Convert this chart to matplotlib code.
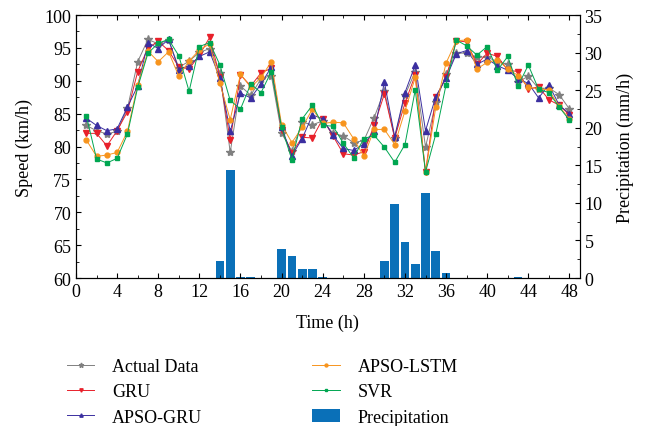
import matplotlib
matplotlib.use("Agg")
import matplotlib.pyplot as plt
from matplotlib.ticker import MultipleLocator

hours = list(range(1, 49))

actual = [83.2, 82.4, 81.9, 82.3, 85.8, 92.9, 96.3, 95.6, 96.2, 92.0, 93.0, 94.3,
          94.9, 91.2, 79.1, 89.2, 87.8, 90.3, 90.8, 82.0, 79.3, 83.7, 83.3, 83.9,
          82.0, 81.6, 80.6, 80.9, 84.4, 88.5, 81.3, 87.8, 91.4, 79.9, 86.7, 91.0,
          94.2, 94.2, 93.6, 93.6, 92.9, 92.5, 89.8, 90.7, 88.8, 88.9, 87.9, 85.7]
gru = [82.0, 82.0, 80.1, 82.4, 85.3, 91.4, 95.0, 96.0, 94.6, 92.1, 91.8, 93.9,
       96.6, 90.6, 81.0, 90.9, 89.2, 91.2, 91.9, 82.5, 79.0, 81.4, 81.3, 84.2,
       81.6, 78.9, 78.7, 79.2, 83.2, 88.0, 81.3, 86.6, 90.9, 76.1, 87.5, 90.5,
       96.1, 95.9, 92.5, 94.2, 93.7, 91.6, 91.4, 88.7, 89.1, 87.1, 86.3, 84.8]
apso_gru = [84.3, 83.2, 82.4, 82.7, 86.0, 89.2, 95.8, 94.9, 96.3, 91.7, 92.3, 93.7,
            94.4, 90.4, 82.3, 88.1, 87.4, 89.5, 92.1, 82.9, 78.6, 81.2, 84.8, 84.2,
            81.7, 79.7, 79.4, 80.4, 82.3, 89.8, 81.5, 88.2, 92.4, 82.4, 87.6, 90.4,
            94.1, 94.6, 92.5, 93.3, 92.3, 91.6, 90.3, 89.6, 87.4, 89.4, 86.3, 85.0]
apso_lstm = [81.0, 78.5, 78.7, 79.1, 82.3, 89.4, 94.5, 92.9, 94.4, 90.7, 93.0, 94.7,
             95.6, 89.6, 84.1, 91.0, 89.0, 90.5, 92.9, 83.3, 80.6, 82.9, 85.7, 83.5,
             83.7, 83.6, 81.2, 78.5, 82.6, 82.6, 80.3, 85.4, 90.5, 76.1, 86.0, 92.7,
             96.1, 96.2, 91.8, 92.8, 93.2, 91.8, 90.8, 89.0, 88.8, 88.6, 86.1, 84.2]
svr = [84.7, 78.1, 77.5, 78.2, 81.9, 89.0, 94.2, 95.7, 96.3, 93.8, 88.4, 95.2,
       95.8, 92.4, 87.0, 85.7, 89.5, 88.2, 91.4, 82.9, 78.0, 84.2, 86.3, 83.2,
       83.1, 80.5, 78.3, 81.2, 81.7, 79.9, 77.6, 80.3, 88.6, 76.1, 81.9, 89.4,
       96.2, 95.3, 93.9, 95.2, 91.6, 93.7, 89.2, 92.4, 88.7, 88.2, 86.0, 84.0]

precip = [0, 0, 0, 0, 0, 0, 0, 0, 0, 0, 0, 0, 0, 2.2, 14.4, 0.1, 0.1, 0, 0, 3.9,
          2.9, 1.2, 1.2, 0.1, 0, 0, 0, 0, 0, 2.3, 9.85, 4.75, 1.8, 11.3, 3.6, 0.7,
          0, 0, 0, 0, 0, 0, 0.1, 0, 0, 0, 0, 0]

series = [
    ("Actual Data", actual, "#808080", "*", 6),
    ("GRU", gru, "#e8202a", "v", 4),
    ("APSO-GRU", apso_gru, "#3b2fa0", "^", 4),
    ("APSO-LSTM", apso_lstm, "#f7941d", "o", 3.5),
    ("SVR", svr, "#00a651", "s", 3.5),
]

plt.rcParams["font.family"] = "Liberation Serif"
plt.rcParams["font.size"] = 13

fig = plt.figure(figsize=(6.47, 4.27), dpi=100)
ax = fig.add_axes([0.1175, 0.3466, 0.7785, 0.6159])
ax2 = ax.twinx()

bars = ax2.bar(hours, precip, width=0.85, color="#0a70b8", label="Precipitation")

handles = []
for name, vals, col, mk, ms in series:
    h, = ax.plot(hours, vals, color=col, marker=mk, markersize=ms, linewidth=0.7,
                 label=name)
    handles.append(h)

ax.set_zorder(ax2.get_zorder() + 1)
ax.patch.set_visible(False)

ax.set_xlim(0, 49)
ax.set_ylim(60, 100)
ax2.set_ylim(0, 35)
ax.xaxis.set_major_locator(MultipleLocator(4))
ax.xaxis.set_minor_locator(MultipleLocator(2))
ax.yaxis.set_major_locator(MultipleLocator(5))
ax.yaxis.set_minor_locator(MultipleLocator(2.5))
ax2.yaxis.set_major_locator(MultipleLocator(5))
ax2.yaxis.set_minor_locator(MultipleLocator(2.5))
ax.tick_params(which="both", direction="in", top=True)
ax2.tick_params(which="both", direction="in")

ax.set_xlabel("Time (h)", labelpad=10)
ax.set_ylabel("Speed (km/h)", labelpad=8)
ax2.set_ylabel("Precipitation (mm/h)", labelpad=10)

legend_handles = handles + [bars]
fig.legend(legend_handles, [h.get_label() for h in legend_handles],
           ncol=2, loc="upper left", bbox_to_anchor=(0.098, 0.167),
           frameon=False, columnspacing=6.1, handlelength=1.5,
           handletextpad=1.0, borderaxespad=0, borderpad=0.2,
           labelspacing=0.45, markerscale=0.6, fontsize=13)

fig.savefig("out.png", dpi=100)
